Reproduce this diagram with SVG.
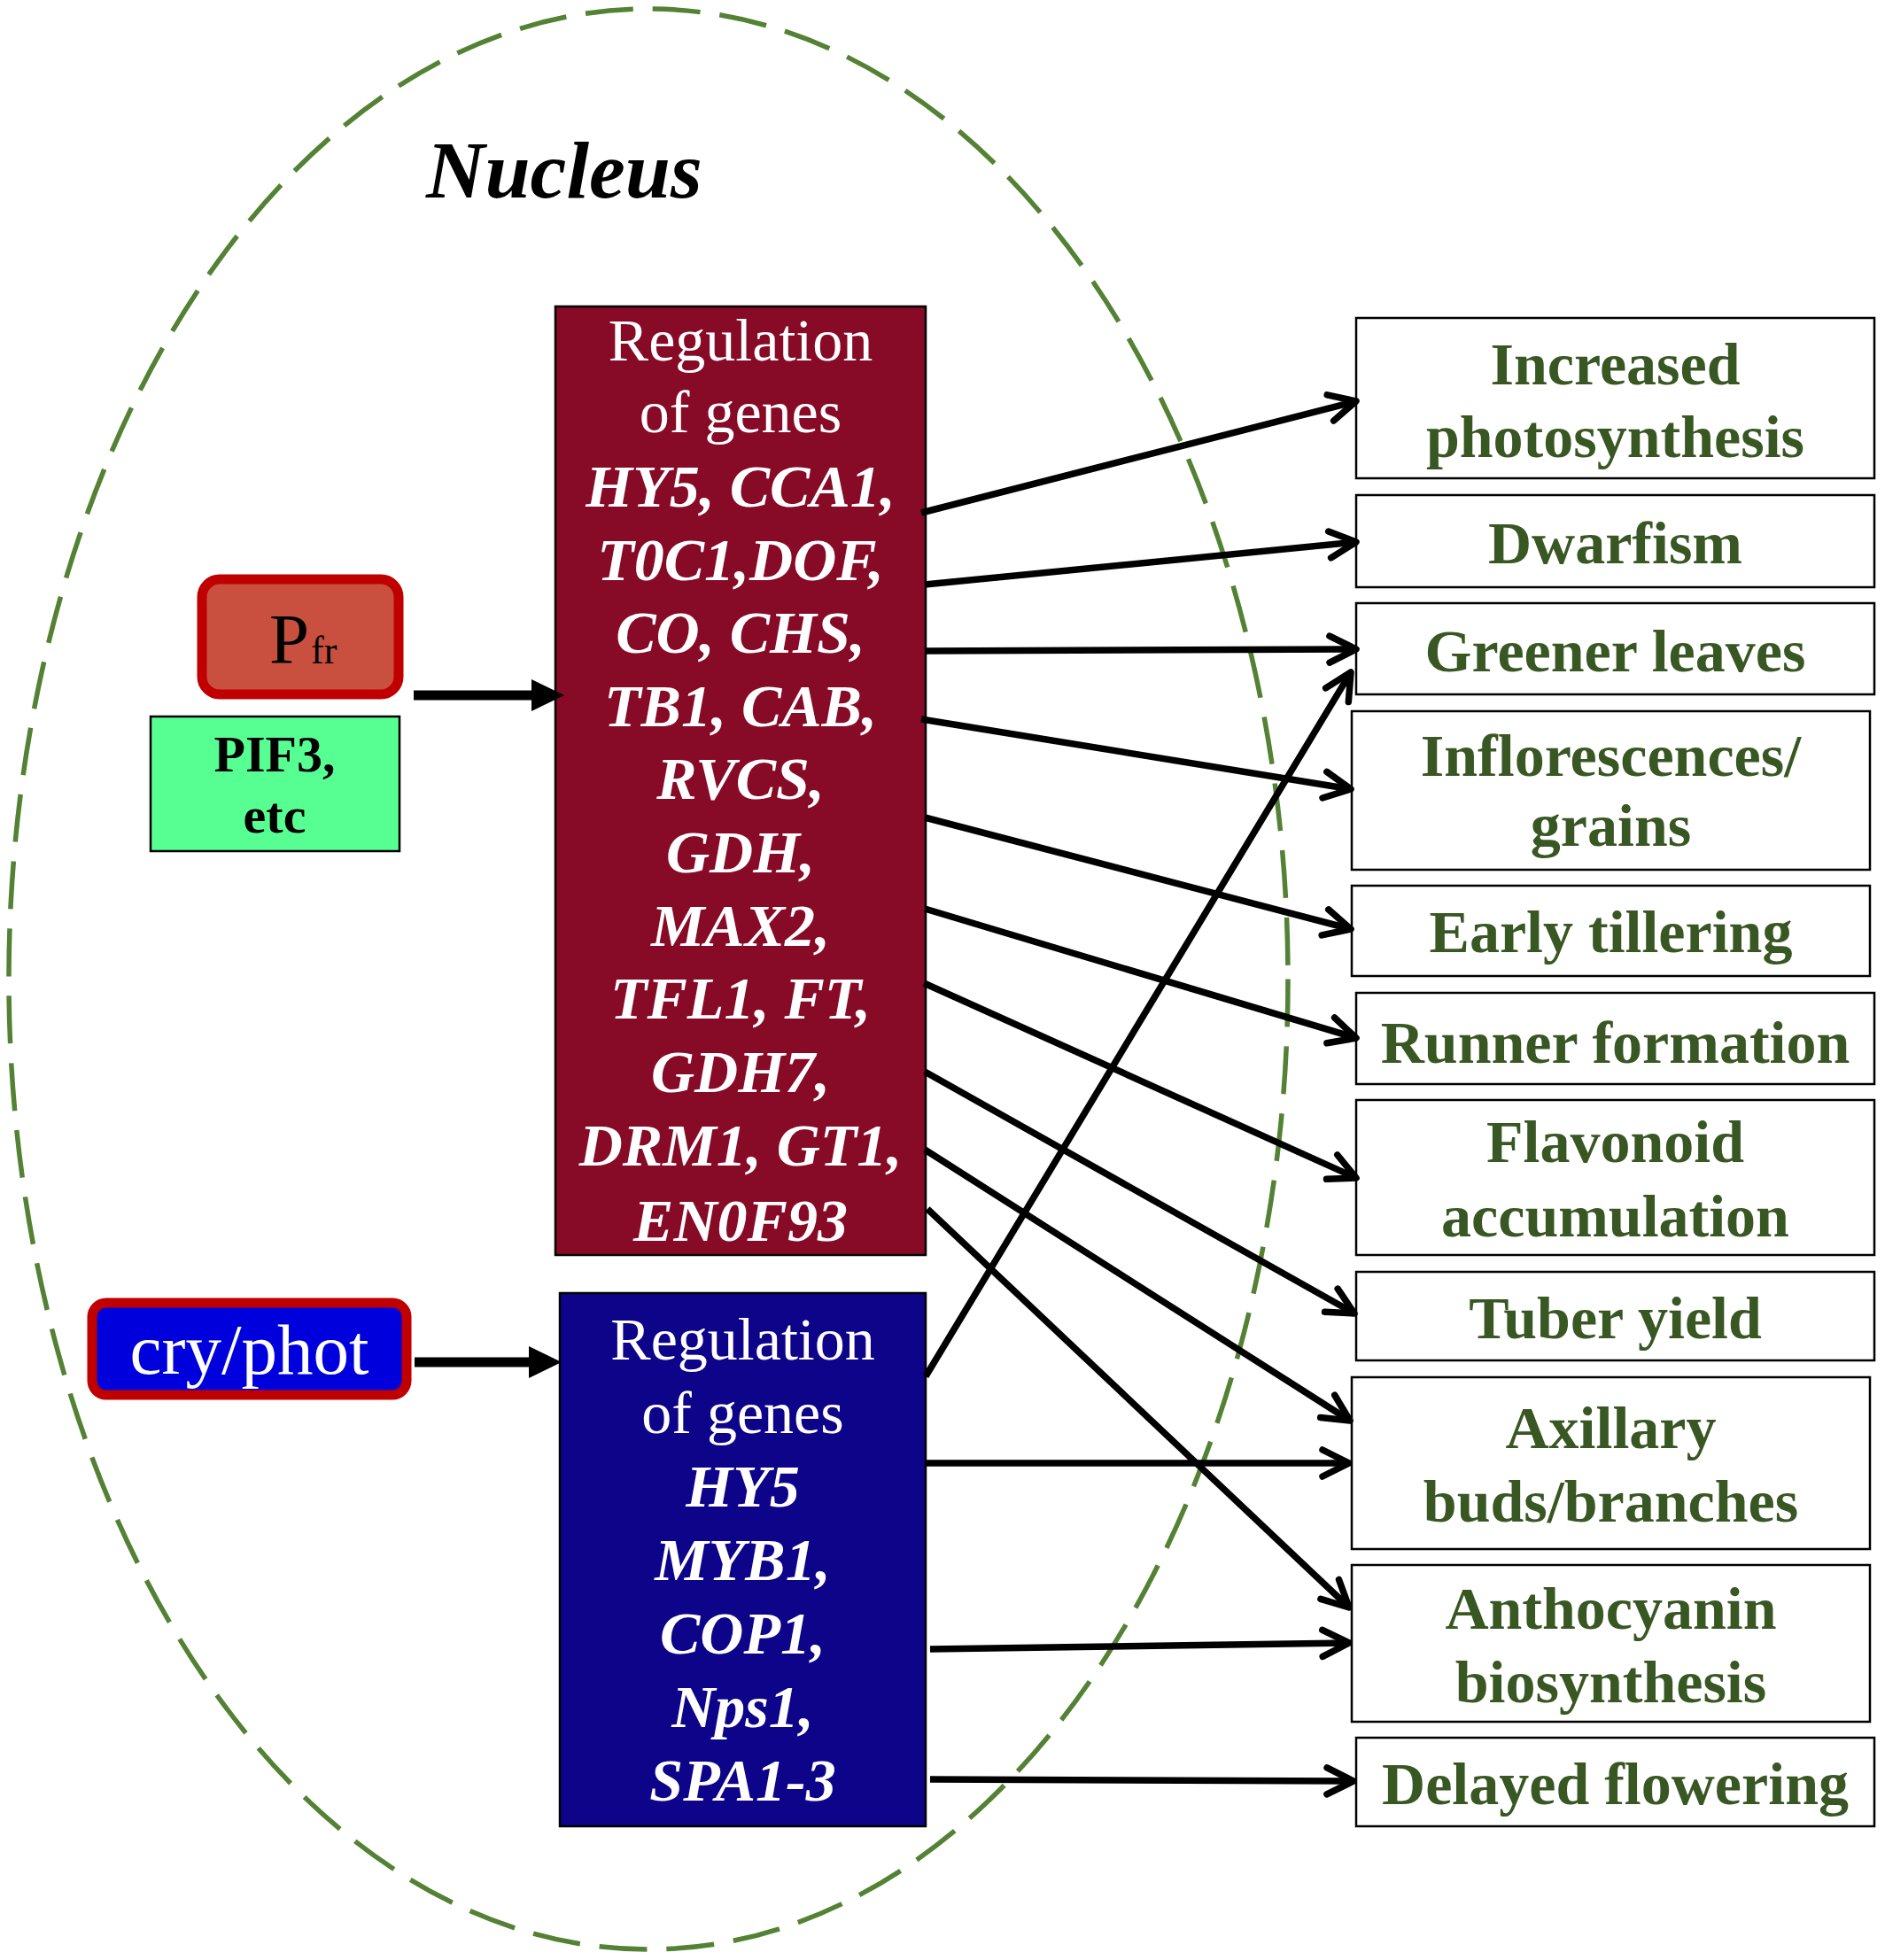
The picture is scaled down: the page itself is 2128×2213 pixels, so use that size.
<svg xmlns="http://www.w3.org/2000/svg" width="2128" height="2213" viewBox="0 0 2128 2213">
<style>
.serif{font-family:"Liberation Serif","Times New Roman",serif}
.gene{font-family:"Liberation Serif","Times New Roman",serif;font-size:68px;fill:#fff;text-anchor:middle}
.gi{font-weight:bold;font-style:italic}
.out rect{fill:#fff;stroke:#000;stroke-width:2.5}
.out text{font-family:"Liberation Serif","Times New Roman",serif;font-size:68px;font-weight:bold;fill:#385723;text-anchor:middle}
.conn line{stroke:#000;stroke-width:7.5;fill:none;marker-end:url(#v)}
.thick line{stroke:#000;stroke-width:11;marker-end:url(#tri)}
</style>
<defs>
<marker id="v" markerUnits="userSpaceOnUse" markerWidth="60" markerHeight="60" refX="40" refY="25" orient="auto" overflow="visible">
<path d="M10,10 L40,25 L10,40" fill="none" stroke="#000" stroke-width="7.5" stroke-linejoin="round" stroke-linecap="round"/>
</marker>
<marker id="tri" markerUnits="userSpaceOnUse" markerWidth="60" markerHeight="60" refX="17" refY="18" orient="auto" overflow="visible">
<path d="M0,0 L37,18 L0,36 z" fill="#000"/>
</marker>
</defs>
<rect width="2128" height="2213" fill="#fff"/>

<g id="nucleus">
<ellipse cx="732" cy="1105.5" rx="722" ry="1095.5" fill="none" stroke="#548235" stroke-width="5.5" stroke-dasharray="54,22"/>
<text x="481" y="223" class="serif" font-size="92" font-weight="bold" font-style="italic" fill="#000">Nucleus</text>
</g>

<g id="pfr">
<rect x="228" y="654" width="222" height="130" rx="20" fill="#C9503F" stroke="#C00000" stroke-width="11"/>
<text x="304" y="749" class="serif" fill="#000"><tspan font-size="81">P</tspan><tspan font-size="44" dx="2">fr</tspan></text>
</g>

<g id="pif3">
<rect x="170" y="809" width="281" height="152" fill="#57FF92" stroke="#000" stroke-width="2.5"/>
<text x="310" y="871" class="serif" font-size="58" font-weight="bold" text-anchor="middle" fill="#000">PIF3,</text>
<text x="310" y="940" class="serif" font-size="58" font-weight="bold" text-anchor="middle" fill="#000">etc</text>
</g>

<g id="cryphot">
<rect x="104" y="1471" width="355" height="104" rx="16" fill="#0000DC" stroke="#C00000" stroke-width="11"/>
<text x="281.5" y="1551" class="serif" font-size="81" text-anchor="middle" fill="#fff">cry/phot</text>
</g>

<g id="red-genes">
<rect x="627" y="346" width="418" height="1071" fill="#870A26" stroke="#000" stroke-width="2.5"/>
<text class="gene" x="836" y="407">Regulation</text>
<text class="gene" x="836" y="487.5">of genes</text>
<text class="gene gi" x="836" y="572">HY5, CCA1,</text>
<text class="gene gi" x="836" y="654.5">T0C1,DOF,</text>
<text class="gene gi" x="836" y="737">CO, CHS,</text>
<text class="gene gi" x="836" y="819.5">TB1, CAB,</text>
<text class="gene gi" x="836" y="902">RVCS,</text>
<text class="gene gi" x="836" y="985">GDH,</text>
<text class="gene gi" x="836" y="1067.5">MAX2,</text>
<text class="gene gi" x="836" y="1150">TFL1, FT,</text>
<text class="gene gi" x="836" y="1233">GDH7,</text>
<text class="gene gi" x="836" y="1316">DRM1, GT1,</text>
<text class="gene gi" x="836" y="1401">EN0F93</text>
</g>

<g id="blue-genes">
<rect x="632" y="1460" width="413" height="602" fill="#0D048A" stroke="#000" stroke-width="2.5"/>
<text class="gene" x="838.5" y="1535">Regulation</text>
<text class="gene" x="838.5" y="1618">of genes</text>
<text class="gene gi" x="838.5" y="1701">HY5</text>
<text class="gene gi" x="838.5" y="1784">MYB1,</text>
<text class="gene gi" x="838.5" y="1867">COP1,</text>
<text class="gene gi" x="838.5" y="1950">Nps1,</text>
<text class="gene gi" x="838.5" y="2033">SPA1-3</text>
</g>

<g id="out-photosynthesis" class="out">
<rect x="1531" y="359" width="585" height="181"/>
<text x="1823.5" y="434">Increased</text>
<text x="1823.5" y="516">photosynthesis</text>
</g>
<g id="out-dwarfism" class="out">
<rect x="1531" y="559" width="585" height="104"/>
<text x="1823.5" y="636">Dwarfism</text>
</g>
<g id="out-greener" class="out">
<rect x="1531" y="681" width="585" height="103"/>
<text x="1823.5" y="758">Greener leaves</text>
</g>
<g id="out-inflorescences" class="out">
<rect x="1526" y="803" width="585" height="179"/>
<text x="1818.5" y="876">Inflorescences/</text>
<text x="1818.5" y="955">grains</text>
</g>
<g id="out-tillering" class="out">
<rect x="1526" y="1000" width="585" height="102"/>
<text x="1818.5" y="1075">Early tillering</text>
</g>
<g id="out-runner" class="out">
<rect x="1531" y="1121" width="585" height="103"/>
<text x="1823.5" y="1200">Runner formation</text>
</g>
<g id="out-flavonoid" class="out">
<rect x="1531" y="1242" width="585" height="175"/>
<text x="1823.5" y="1312">Flavonoid</text>
<text x="1823.5" y="1396">accumulation</text>
</g>
<g id="out-tuber" class="out">
<rect x="1531" y="1436" width="585" height="100"/>
<text x="1823.5" y="1511">Tuber yield</text>
</g>
<g id="out-axillary" class="out">
<rect x="1526" y="1555" width="585" height="194"/>
<text x="1818.5" y="1635">Axillary</text>
<text x="1818.5" y="1718">buds/branches</text>
</g>
<g id="out-anthocyanin" class="out">
<rect x="1526" y="1767" width="585" height="177"/>
<text x="1818.5" y="1839">Anthocyanin</text>
<text x="1818.5" y="1922">biosynthesis</text>
</g>
<g id="out-delayed" class="out">
<rect x="1531" y="1962" width="585" height="100"/>
<text x="1823.5" y="2037">Delayed flowering</text>
</g>

<g id="connectors">
<g class="thick">
<line x1="467" y1="785" x2="617" y2="785"/>
<line x1="468" y1="1538" x2="614" y2="1538"/>
</g>
<g class="conn">
<line x1="1040" y1="579" x2="1531" y2="453"/>
<line x1="1044" y1="660" x2="1531" y2="612"/>
<line x1="1044" y1="735" x2="1531" y2="733"/>
<line x1="1040" y1="812" x2="1525" y2="891"/>
<line x1="1044" y1="923" x2="1525" y2="1049"/>
<line x1="1044" y1="1026" x2="1531" y2="1172"/>
<line x1="1043" y1="1110" x2="1531" y2="1330"/>
<line x1="1044" y1="1210" x2="1529" y2="1483"/>
<line x1="1044" y1="1298" x2="1524" y2="1604"/>
<line x1="1047" y1="1365" x2="1523" y2="1815"/>
<line x1="1045" y1="1554" x2="1525" y2="759"/>
<line x1="1045" y1="1652" x2="1523" y2="1652"/>
<line x1="1050" y1="1862" x2="1523" y2="1855"/>
<line x1="1050" y1="2009" x2="1528" y2="2011"/>
</g>
</g>
</svg>
